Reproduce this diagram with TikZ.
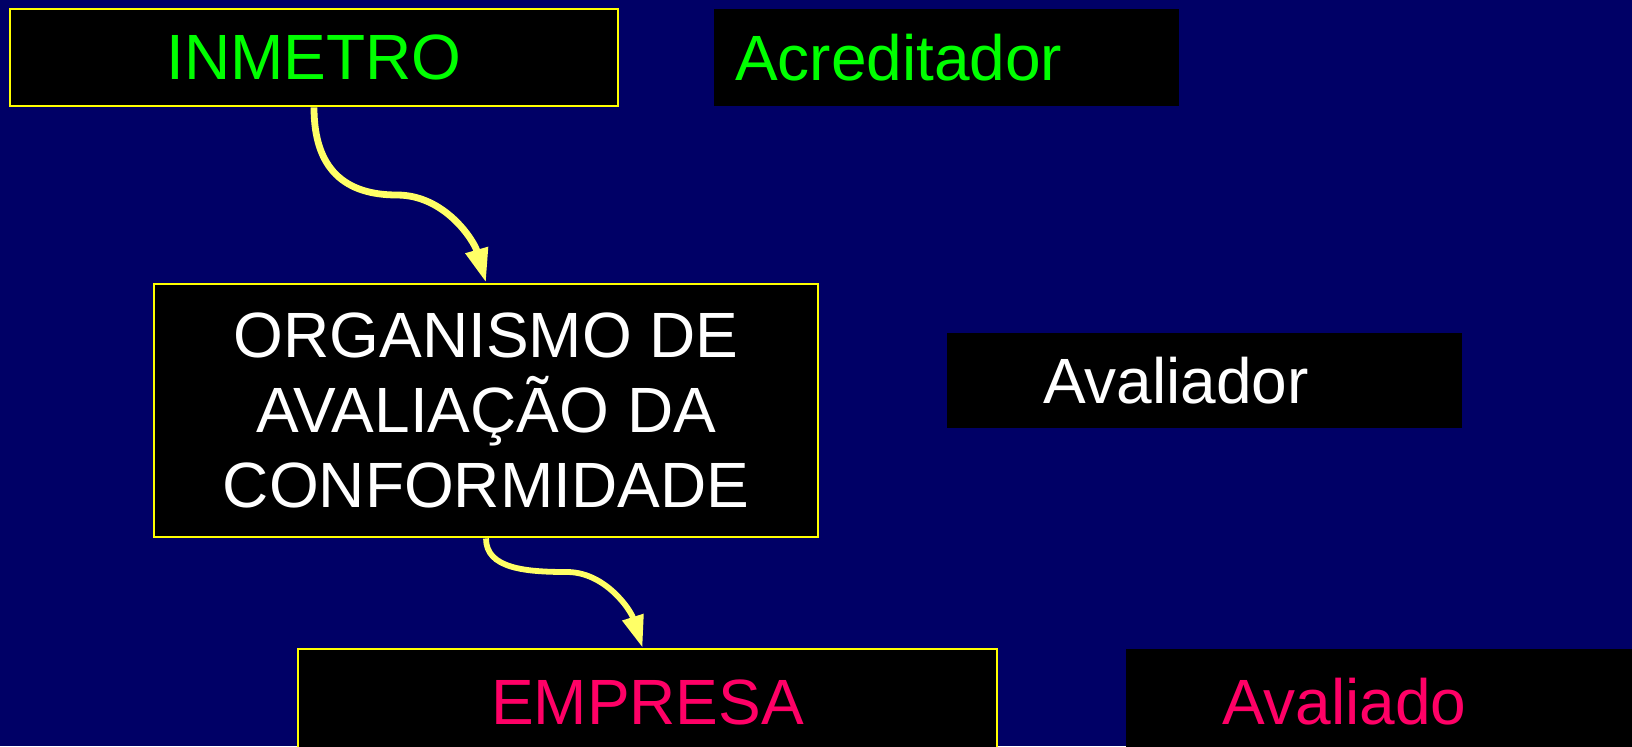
\documentclass[tikz,border=0pt]{standalone}
\usepackage{fontspec}
\setmainfont{Liberation Sans}
\usetikzlibrary{arrows.meta}
\definecolor{bgnavy}{HTML}{000066}
\definecolor{boxyellow}{HTML}{FFFF00}
\definecolor{arrowyellow}{HTML}{FFFF66}
\definecolor{acgreen}{HTML}{00FF00}
\definecolor{empink}{HTML}{FF0066}
\begin{document}
\begin{tikzpicture}[x=0.5pt,y=-0.5pt,
  bigtext/.style={font=\fontsize{32}{37.5}\selectfont},
  box/.style={bigtext, draw=boxyellow, line width=1.4pt, fill=black, inner sep=0pt, align=center},
  tag/.style={bigtext, fill=black, inner ysep=0pt, align=left},
  arr/.style={draw=arrowyellow, line width=3.4pt, -{Triangle[length=17pt,width=11pt]}},
  arrthin/.style={draw=arrowyellow, line width=2.9pt, -{Triangle[length=16pt,width=10.5pt]}}]
\useasboundingbox (0,0) rectangle (1632,746);
\clip (0,0) rectangle (1632,746);
\fill[bgnavy] (0,0) rectangle (1632,746);
% left column boxes
\node[box, text=acgreen, minimum width=304pt, minimum height=48.5pt] (inmetro) at (314,57.5) {INMETRO};
\node[box, text=white, minimum width=332pt, minimum height=126.5pt] (org) at (486,410.5) {ORGANISMO DE\\AVALIAÇÃO DA\\CONFORMIDADE};
\node[box, text=empink, minimum width=349.5pt, minimum height=53pt] (emp) at (647.5,702) {EMPRESA};
% right column tags
\node[tag, text=acgreen, inner xsep=10.5pt, text width=211.5pt, minimum height=48.5pt] (acred) at (946.5,57.5) {Acreditador};
\node[tag, text=white, inner xsep=48pt, text width=161.5pt, minimum height=47.5pt] (aval) at (1204.5,380.5) {Avaliador};
\node[tag, text=empink, inner xsep=48pt, text width=161pt, minimum height=53pt] (avdo) at (1383,702) {Avaliado};
% connectors
\coordinate (m1) at (397,195);
\coordinate (m2) at (567,572);
\draw[arr] (inmetro.south) .. controls +(0,62) and +(-52,0) .. (m1) .. controls +(48,0) and +(-12,-42) .. (org.north);
\draw[arrthin] (org.south) .. controls +(0,30) and +(-42,0) .. (m2) .. controls +(38,0) and +(-12,-38) .. ([xshift=-2.5pt]emp.north);
\end{tikzpicture}
\end{document}
